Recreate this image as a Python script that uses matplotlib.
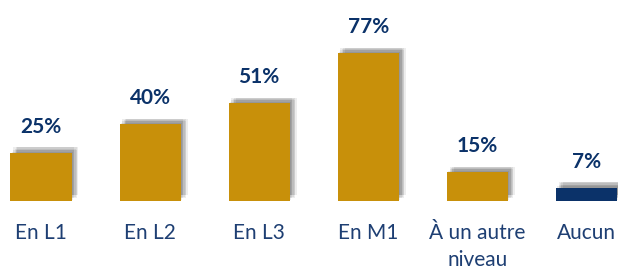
import matplotlib.pyplot as plt
import matplotlib.patheffects as pe

categories = ["En L1", "En L2", "En L3", "En M1", "À un autre\nniveau", "Aucun"]
values = [25, 40, 51, 77, 15, 7]
value_labels = ["25%", "40%", "51%", "77%", "15%", "7%"]

GOLD = "#C8900A"
NAVY = "#0B3269"
TEXT = "#1E3F73"

plt.rcParams["font.family"] = ["Lato", "DejaVu Sans"]

fig = plt.figure(figsize=(6.18, 2.70), dpi=100)
ax = fig.add_axes([0, 69 / 270, 1, 201 / 270])

colors = [GOLD] * 5 + [NAVY]
x = list(range(len(categories)))
bars = ax.bar(x, values, width=0.56, color=colors, zorder=2)

# soft blurred shadow, stacked a few thin layers
shadow = [pe.SimplePatchShadow(offset=(dx, dy), shadow_rgbFace="#000000", alpha=0.07)
          for dx, dy in [(1, 1), (2, 2), (3, 3), (4, 4), (5, 4), (2, 4), (4, 2)]]
for b in bars:
    b.set_path_effects(shadow + [pe.Normal()])

for xi, v, lab in zip(x, values, value_labels):
    ax.annotate(lab, (xi, v), xytext=(0, 26), textcoords="offset pixels",
                ha="center", va="center", fontsize=15, fontweight="bold", color=NAVY)

ax.set_xlim(-0.376, 5.29)
ax.set_ylim(0, 104.7)
ax.set_xticks(x)
ax.set_xticklabels(categories, fontsize=15, color=TEXT, va="top", linespacing=1.45)
ax.tick_params(axis="x", length=0, pad=16)
ax.set_yticks([])
for s in ax.spines.values():
    s.set_visible(False)

fig.savefig("out.png", dpi=100)
